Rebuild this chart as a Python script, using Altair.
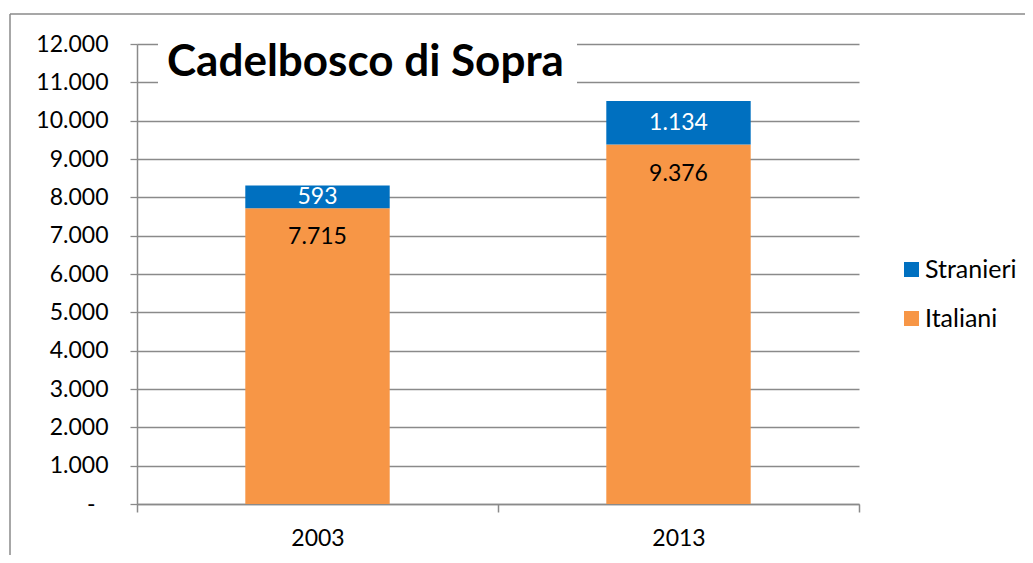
import altair as alt
import pandas as pd

# ---- data ----
years = ["2003", "2013"]
italiani = [7715, 9376]
stranieri = [593, 1134]
groups = ["Stranieri", "Italiani"]
colors = ["#0070C0", "#F79646"]
title_text = "Cadelbosco di Sopra"
y_ticks = list(range(0, 12001, 1000))

rows = []
for i, y in enumerate(years):
    rows.append({"year": y, "group": "Italiani", "value": italiani[i], "ord": 0})
    rows.append({"year": y, "group": "Stranieri", "value": stranieri[i], "ord": 1})
df = pd.DataFrame(rows)

FONT = "Lato"
GRID = "#8a8a8a"

base = alt.Chart(df).transform_stack(
    stack="value", groupby=["year"], as_=["v0", "v1"], sort=[alt.SortField("ord")]
).transform_calculate(
    mid="(datum.v0 + datum.v1) / 2",
    label="replace(format(datum.value, ',d'), ',', '.')",
)

xaxis = alt.Axis(
    labelAngle=0, tickBand="extent", grid=False, domainColor=GRID,
    tickColor=GRID, tickSize=8, domainWidth=1.5, tickWidth=1.5,
    labelFont=FONT, labelFontSize=23, labelColor="#000000", labelPadding=15,
)
xscale = alt.Scale(paddingInner=0, paddingOuter=0)

yaxis = alt.Axis(
    values=y_ticks, labelOverlap=False,
    labelExpr="datum.value == 0 ? '-' : replace(format(datum.value, ',d'), ',', '.')",
    labelPadding={"condition": {"test": "datum.value == 0", "value": 35}, "value": 22},
    grid=True, gridColor=GRID, gridWidth=1.3, domainColor=GRID,
    domainWidth=1.5, tickColor=GRID, tickSize=7, tickWidth=1.3,
    labelFont=FONT, labelFontSize=23, labelColor="#000000",
)
yscale = alt.Scale(domain=[0, 12000], nice=False)

bars = base.mark_bar(width={"band": 0.4}).encode(
    x=alt.X("year:N", title=None, scale=xscale, axis=xaxis),
    y=alt.Y("v1:Q", title=None, scale=yscale, axis=yaxis),
    y2="v0:Q",
    color=alt.Color(
        "group:N",
        scale=alt.Scale(domain=groups, range=colors),
        legend=alt.Legend(
            title=None, orient="none", legendX=762, legendY=213,
            symbolType="square", symbolSize=225, symbolStrokeWidth=0,
            labelFont=FONT, labelFontSize=25, labelColor="#000000",
            labelOffset=1, rowPadding=23, padding=0,
        ),
    ),
    order=alt.Order("ord:Q"),
)

txt_str = base.transform_filter("datum.group == 'Stranieri'").mark_text(
    font=FONT, fontSize=23, color="#ffffff", baseline="middle"
).encode(
    x=alt.X("year:N", title=None, scale=xscale, axis=xaxis),
    y=alt.Y("mid:Q", title=None, scale=yscale, axis=yaxis),
    text="label:N",
)

txt_ita = base.transform_filter("datum.group == 'Italiani'").mark_text(
    font=FONT, fontSize=23, color="#000000", baseline="middle", dy=29
).encode(
    x=alt.X("year:N", title=None, scale=xscale, axis=xaxis),
    y=alt.Y("v1:Q", title=None, scale=yscale, axis=yaxis),
    text="label:N",
)

one = alt.Chart(pd.DataFrame({"t": [title_text]}))

title_box = one.mark_rect(color="#ffffff").encode(
    x=alt.value(21), x2=alt.value(440), y=alt.value(-6), y2=alt.value(57)
)
title = one.mark_text(
    font=FONT, fontSize=44, fontWeight="bold", color="#000000",
    align="left", baseline="alphabetic"
).encode(x=alt.value(30), y=alt.value(32), text="t:N")

border_left = one.mark_rule(color=GRID, strokeWidth=1.5).encode(
    x=alt.value(-127), y=alt.value(-30), y2=alt.value(540)
)
border_top = one.mark_rule(color=GRID, strokeWidth=1.5).encode(
    x=alt.value(-127), x2=alt.value(920), y=alt.value(-30)
)

chart = alt.layer(
    bars, txt_str, txt_ita, title_box, title, border_left, border_top
).properties(
    width=722, height=460,
    autosize=alt.AutoSizeParams(type="none"),
    padding={"left": 129, "top": 36, "right": 166, "bottom": 51},
).configure_view(stroke=None)

chart.save("out.html", embed_options={"renderer": "svg", "actions": False})
